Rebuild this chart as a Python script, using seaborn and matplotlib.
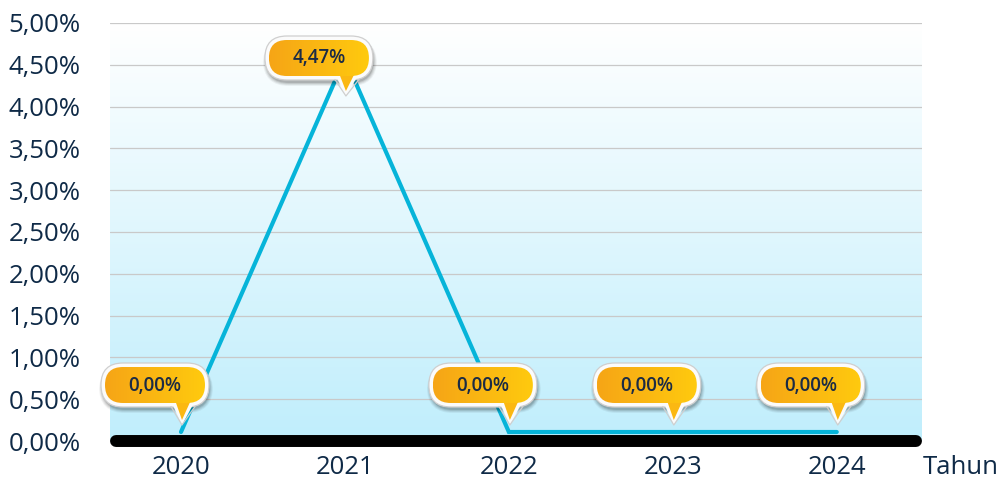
import numpy as np
import pandas as pd
import matplotlib
matplotlib.use("Agg")
import matplotlib.pyplot as plt
import matplotlib.transforms as mtransforms
from matplotlib.patches import FancyBboxPatch, Polygon
import seaborn as sns

# data
years = [2020, 2021, 2022, 2023, 2024]
values = [0.00, 4.47, 0.00, 0.00, 0.00]
y_ticks = [0.0, 0.5, 1.0, 1.5, 2.0, 2.5, 3.0, 3.5, 4.0, 4.5, 5.0]
x_title = "Tahun"

sns.set_theme(style="white")
plt.rcParams["font.family"] = ["Open Sans", "DejaVu Sans"]

W, H = 1004, 482
fig = plt.figure(figsize=(W / 100, H / 100), dpi=100)
fig.patch.set_facecolor("white")
ax = fig.add_axes([110 / W, 41 / H, 812 / W, 418 / H])

x_left, x_right = 2020 - 0.433, 2024 + 0.52
ax.set_xlim(x_left, x_right)
ax.set_ylim(0, 5.0)

# vertical background gradient
grad = np.linspace(0, 1, 256)[:, None]
top = np.array([255, 255, 255]) / 255
bot = np.array([192, 238, 252]) / 255
img = top[None, None, :] * (1 - grad[..., None]) + bot[None, None, :] * grad[..., None]
img = np.repeat(img, 2, axis=1)
ax.imshow(img, extent=(x_left, x_right, 0, 5.0), aspect="auto", origin="upper", zorder=0)

df = pd.DataFrame({"Tahun": years, "Nilai": values})
sns.lineplot(data=df, x="Tahun", y="Nilai", ax=ax, color="#06b4d9", linewidth=3.0,
             zorder=4, solid_joinstyle="miter")
line = ax.lines[-1]
line.set_transform(mtransforms.offset_copy(ax.transData, fig=fig, x=0, y=9, units="dots"))
line.set_clip_on(False)

# thick base line
span = x_right - x_left
eps = span * 6 / 812
ax.plot([x_left + eps, x_right - eps], [0, 0], color="black", lw=8.6,
        solid_capstyle="round", zorder=5, clip_on=False)

ax.set_yticks(y_ticks)
ax.set_yticklabels([f"{v:.2f}".replace(".", ",") + "%" for v in y_ticks])
ax.set_xticks(years)
ax.set_xticklabels([str(y) for y in years])
ax.grid(axis="y", color="#c9c9c9", lw=0.9, zorder=1)
ax.grid(axis="x", visible=False)
ax.set_axisbelow(False)
for s in ax.spines.values():
    s.set_visible(False)
ax.tick_params(axis="both", length=0, labelsize=18.5, labelcolor="#0f2a47")
ax.tick_params(axis="y", pad=21)
ax.tick_params(axis="x", pad=10)
ax.set_xlabel("")
ax.set_ylabel("")
fig.text(961 / W, 1 - 467 / H, x_title, ha="center", va="center", fontsize=18.5, color="#0f2a47")

# callouts drawn in pixel space on an overlay
ov = fig.add_axes([0, 0, 1, 1], zorder=10)
ov.set_xlim(0, W)
ov.set_ylim(H, 0)
ov.axis("off")

pill_grad = np.zeros((2, 256, 3))
c0 = np.array([246, 165, 22]) / 255
c1 = np.array([255, 202, 14]) / 255
t = np.linspace(0, 1, 256)[:, None]
pill_grad[:] = c0 * (1 - t) + c1 * t


def callout(px, py, label):
    tip_x = px + 1
    tip_y = py - 19
    iw, ih = 100, 36
    cy = tip_y - 37
    if cy < 58:
        cy = 58
        tip_y = cy + 35
    cx = tip_x - 27
    x0, y0 = cx - iw / 2, cy - ih / 2
    r = ih / 2
    b = 4
    # soft shadow
    for k, a in [(4, 0.05), (3, 0.07), (2, 0.09), (1, 0.12)]:
        ov.add_patch(FancyBboxPatch((x0 - b - k + 2, y0 - b + 2), iw + 2 * b + 2 * k - 2, ih + 2 * b + k,
                                    boxstyle=f"round,pad=0,rounding_size={r + b + k}",
                                    fc="black", ec="none", alpha=a, zorder=1))
    # white border + tail border
    ov.add_patch(FancyBboxPatch((x0 - b, y0 - b), iw + 2 * b, ih + 2 * b,
                                boxstyle=f"round,pad=0,rounding_size={r + b}",
                                fc="#fbfbfb", ec="#cfcfcf", lw=0.9, zorder=2))
    tail_out = [(tip_x - 11, y0 + ih - 2), (tip_x + 13, y0 + ih - 2), (tip_x, tip_y + 3)]
    ov.add_patch(Polygon(tail_out, closed=True, fc="#fbfbfb", ec="none", zorder=3))
    ov.plot([tip_x - 11, tip_x, tip_x + 13], [y0 + ih + b - 0.5, tip_y + 3, y0 + ih + b - 0.5],
            color="#cfcfcf", lw=0.9, zorder=3)
    tail_in = [(tip_x - 7, y0 + ih - 3), (tip_x + 9, y0 + ih - 3), (tip_x, tip_y - 2)]
    ov.add_patch(Polygon(tail_in, closed=True, fc="#fbb812", ec="none", zorder=4))
    pill = FancyBboxPatch((x0, y0), iw, ih, boxstyle=f"round,pad=0,rounding_size={r}",
                          fc="none", ec="none", zorder=5)
    ov.add_patch(pill)
    im = ov.imshow(pill_grad, extent=(x0, x0 + iw, y0 + ih, y0), aspect="auto", zorder=5)
    im.set_clip_path(pill)
    ov.text(cx, cy + 0.5, label, ha="center", va="center", fontsize=13.5,
            fontweight="semibold", color="#1b2b45", zorder=6)


for yr, v in zip(years, values):
    dx, dy = ax.transData.transform((yr, v))
    callout(dx, H - dy, f"{v:.2f}".replace(".", ",") + "%")

ov.set_xlim(0, W)
ov.set_ylim(H, 0)
ov.set_aspect("auto")

fig.savefig("out.png", dpi=100, facecolor="white")
